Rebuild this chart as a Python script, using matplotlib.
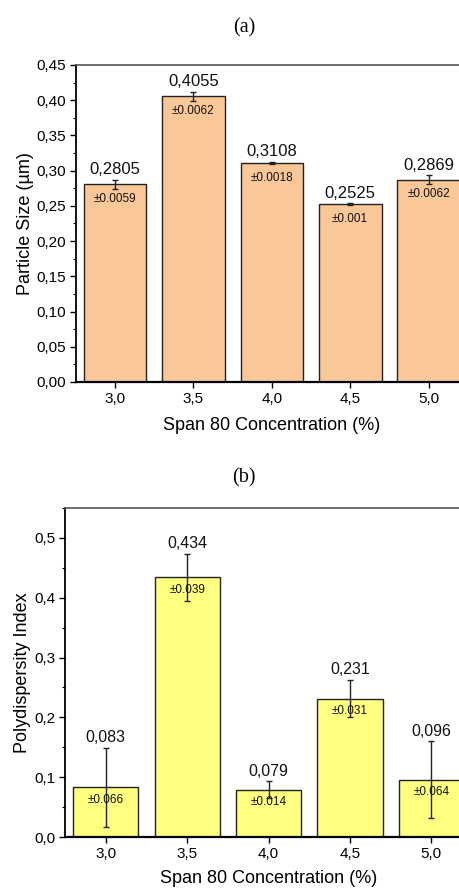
import matplotlib.pyplot as plt
from matplotlib.ticker import FuncFormatter, MultipleLocator

plt.rcParams['font.family'] = ['Liberation Sans', 'DejaVu Sans']

# data
conc = [3.0, 3.5, 4.0, 4.5, 5.0]
size_um = [0.2805, 0.4055, 0.3108, 0.2525, 0.2869]
size_err = [0.0059, 0.0062, 0.0018, 0.001, 0.0062]
size_labels = ['0,2805', '0,4055', '0,3108', '0,2525', '0,2869']
size_err_labels = ['±0.0059', '±0.0062', '±0.0018', '±0.001', '±0.0062']

pdi = [0.083, 0.434, 0.079, 0.231, 0.096]
pdi_err = [0.066, 0.039, 0.014, 0.031, 0.064]
pdi_labels = ['0,083', '0,434', '0,079', '0,231', '0,096']
pdi_err_labels = ['±0.066', '±0.039', '±0.014', '±0.031', '±0.064']


def comma(decimals):
    return FuncFormatter(lambda v, p: f"{v:.{decimals}f}".replace('.', ','))


def bar_panel(axis, y, err, labels, err_labels, color, ylim, major, ydec, ylabel,
              val_size, err_size, err_off, xpad, ypad):
    axis.bar(conc, y, width=0.4, color=color, edgecolor='#222222', linewidth=1.0, zorder=2)
    axis.errorbar(conc, y, yerr=err, fmt='none', ecolor='#222222', elinewidth=1.0,
                  capsize=2.3, capthick=1.0, zorder=3)
    for xi, yi, ei, lab, elab in zip(conc, y, err, labels, err_labels):
        axis.annotate(lab, (xi, yi + ei), xytext=(0, 2), textcoords='offset points',
                      ha='center', va='bottom', fontsize=val_size, color='#111111')
        axis.annotate(elab, (xi, yi), xytext=(0, -err_off), textcoords='offset points',
                      ha='center', va='center', fontsize=err_size, color='#111111')
    axis.set_xlim(2.75, 5.25)
    axis.set_ylim(0, ylim)
    axis.set_xticks(conc)
    axis.xaxis.set_major_formatter(comma(1))
    axis.yaxis.set_major_locator(MultipleLocator(major))
    axis.yaxis.set_minor_locator(MultipleLocator(major / 2))
    axis.yaxis.set_major_formatter(comma(ydec))
    axis.tick_params(axis='both', which='major', direction='out', length=4, width=1.0,
                     labelsize=11, pad=3)
    axis.tick_params(axis='y', which='minor', direction='out', length=2.5, width=0.8)
    axis.spines['left'].set_linewidth(1.3)
    axis.spines['bottom'].set_linewidth(1.6)
    axis.spines['top'].set_color('#555555')
    axis.spines['top'].set_linewidth(1.2)
    axis.spines['right'].set_visible(False)
    axis.set_xlabel('Span 80 Concentration (%)', fontsize=13, labelpad=xpad)
    axis.set_ylabel(ylabel, fontsize=13, labelpad=ypad)


fig = plt.figure(figsize=(4.6, 8.91), dpi=100)

ax_a = fig.add_axes([0.165, 0.5713, 0.852, 0.3558])
bar_panel(ax_a, size_um, size_err, size_labels, size_err_labels, '#FAC898',
          0.45, 0.05, 2, 'Particle Size (µm)', 12, 8.5, 10.5, 8.5, 1.5)

ax_b = fig.add_axes([0.1413, 0.0606, 0.885, 0.3693])
bar_panel(ax_b, pdi, pdi_err, pdi_labels, pdi_err_labels, '#FFFF80',
          0.55, 0.1, 1, 'Polydispersity Index', 11.5, 8.5, 9, 6.5, 2.5)

fig.text(0.531, 0.9686, '(a)', family='Liberation Serif', fontsize=14.5, ha='center', va='center')
fig.text(0.531, 0.4635, '(b)', family='Liberation Serif', fontsize=14.5, ha='center', va='center')

fig.savefig('out.png', dpi=100)
